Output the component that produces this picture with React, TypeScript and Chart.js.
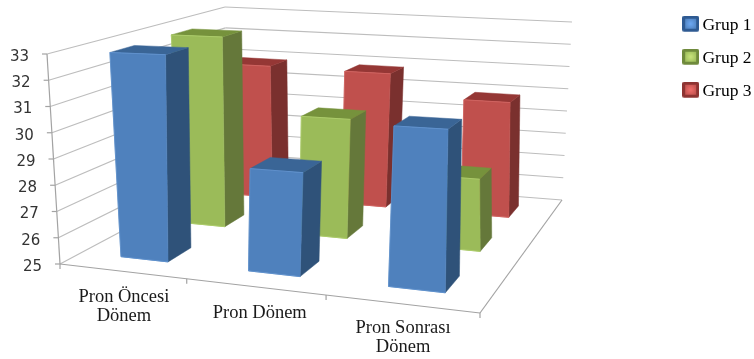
import React, { useEffect, useRef } from "react";
import { Chart, BarController, BarElement, CategoryScale, LinearScale, Legend } from "chart.js";

const periods = [["Pron Öncesi", "Dönem"], ["Pron Dönem"], ["Pron Sonrası", "Dönem"]];
const group1 = [32.9, 28.8, 30.7];
const group2 = [32.9, 29.8, 27.8];
const group3 = [30.9, 30.85, 29.9];
const groupNames = ["Grup 1", "Grup 2", "Grup 3"];
const axisMin = 25;
const axisMax = 33;

const faceColors = [
  { front: "#4F81BD", side: "#2F5279", top: "#3A6596", edge: "#5E90CC", rim: "#2E5A92", glow: "#6BA6F0" },
  { front: "#9BBB59", side: "#65783A", top: "#76923C", edge: "#ABCB69", rim: "#6F8A3C", glow: "#C6E27A" },
  { front: "#C0504D", side: "#7A302E", top: "#953735", edge: "#CF625F", rim: "#8E3432", glow: "#EE6E6A" },
];

type Pt = [number, number];

// Corners of the chart box as seen by the camera: front-left, front-right, back-right, back-left.
const floorQuad: Pt[] = [[60, 264], [480, 313], [562, 200], [229, 174]];
const ceilingQuad: Pt[] = [[47, 54], [489, 71], [572, 22], [225, 7]];

function quadMap(q: Pt[]) {
  const [[x0, y0], [x1, y1], [x2, y2], [x3, y3]] = q;
  const dx1 = x1 - x2, dx2 = x3 - x2, sx = x0 - x1 + x2 - x3;
  const dy1 = y1 - y2, dy2 = y3 - y2, sy = y0 - y1 + y2 - y3;
  const det = dx1 * dy2 - dx2 * dy1;
  const g = (sx * dy2 - dx2 * sy) / det;
  const h = (dx1 * sy - sx * dy1) / det;
  const a = x1 - x0 + g * x1, b = x3 - x0 + h * x3;
  const d = y1 - y0 + g * y1, e = y3 - y0 + h * y3;
  return (u: number, v: number): Pt => {
    const w = g * u + h * v + 1;
    return [(a * u + b * v + x0) / w, (d * u + e * v + y0) / w];
  };
}

const onFloor = quadMap(floorQuad);
const onCeiling = quadMap(ceilingQuad);

function project(u: number, v: number, f: number): Pt {
  const p = onFloor(u, v);
  const q = onCeiling(u, v);
  return [p[0] + (q[0] - p[0]) * f, p[1] + (q[1] - p[1]) * f];
}

// Bars rise a little closer to true vertical than the box walls do.
function projectBar(u: number, v: number, f: number): Pt {
  const p = project(u, v, f);
  return [p[0] - 8 * Math.sqrt(f), p[1]];
}

function polygon(ctx: CanvasRenderingContext2D, pts: Pt[], fill: string, stroke?: string) {
  ctx.beginPath();
  pts.forEach((p, i) => (i ? ctx.lineTo(p[0], p[1]) : ctx.moveTo(p[0], p[1])));
  ctx.closePath();
  ctx.fillStyle = fill;
  ctx.fill();
  ctx.strokeStyle = stroke || fill;
  ctx.lineWidth = stroke ? 1 : 0.5;
  ctx.stroke();
}

function line(ctx: CanvasRenderingContext2D, a: Pt, b: Pt, color: string, width = 1.2) {
  ctx.beginPath();
  ctx.moveTo(a[0], a[1]);
  ctx.lineTo(b[0], b[1]);
  ctx.strokeStyle = color;
  ctx.lineWidth = width;
  ctx.stroke();
}

// Share of a cell taken by a bar, in both directions, and its small sideways offset.
const barShare = 0.38;
const barOffset = 0.005;

class Bar3DController extends BarController {
  static id = "bar3d";
  static defaults = {};
  draw() {
    const chart = this.chart;
    const ctx = chart.ctx;
    const yScale = chart.scales.y;
    const colors = faceColors[this.index];
    const rows = chart.data.datasets.length;
    const cols = chart.data.labels.length;
    this._cachedMeta.data.forEach((el: any, i: number) => {
      const f = (yScale.bottom - el.y) / yScale.height;
      const u0 = (i + (1 - barShare) / 2) / cols + barOffset;
      const u1 = u0 + barShare / cols;
      const v0 = (this.index + (1 - barShare) / 2) / rows;
      const v1 = v0 + barShare / rows;
      const a = projectBar(u0, v0, 0), b = projectBar(u1, v0, 0);
      const c = projectBar(u1, v0, f), d = projectBar(u0, v0, f);
      const e = projectBar(u1, v1, 0), g = projectBar(u1, v1, f), h = projectBar(u0, v1, f);
      ctx.save();
      polygon(ctx, [b, e, g, c], colors.side);
      polygon(ctx, [d, c, g, h], colors.top);
      polygon(ctx, [a, b, c, d], colors.front);
      line(ctx, d, c, colors.edge, 1);
      line(ctx, a, b, colors.edge, 1);
      line(ctx, d, a, colors.edge, 0.8);
      ctx.restore();
    });
  }
}

const gridColor = "#BDBDBD";
const axisColor = "#A3A3A3";

// Box outline, tick marks and axis text, all placed from the chart's own scales.
const boxPlugin = {
  id: "box3d",
  beforeDatasetsDraw(chart: any) {
    const ctx = chart.ctx;
    const yScale = chart.scales.y;
    const xScale = chart.scales.x;
    ctx.save();
    yScale.ticks.forEach((t: any) => {
      const f = (yScale.bottom - yScale.getPixelForValue(t.value)) / yScale.height;
      const front = project(0, 0, f);
      const corner = project(0, 1, f);
      const end = project(1, 1, f);
      line(ctx, front, corner, gridColor);
      line(ctx, corner, end, gridColor);
      line(ctx, [front[0] - 5, front[1]], front, axisColor);
      ctx.font = "15px 'DejaVu Sans'";
      ctx.fillStyle = "#333333";
      ctx.textAlign = "right";
      ctx.textBaseline = "middle";
      ctx.fillText(String(t.value), front[0] - 18, front[1] + 3);
    });
    line(ctx, project(0, 0, 0), project(0, 0, 1), axisColor);
    line(ctx, project(0, 0, 0), project(1, 0, 0), axisColor);
    line(ctx, project(1, 0, 0), project(1, 1, 0), axisColor);

    const labels = xScale.getLabels();
    const cols = labels.length;
    for (let i = 0; i <= cols; i++) {
      const p = project(i / cols, 0, 0);
      line(ctx, p, [p[0], p[1] + 5], axisColor);
    }
    // Drop below the front edge and sideways nudge for each wrapped label.
    const drops = [26, 26, 24];
    const nudges = [2, 5, 2];
    ctx.font = "18.5px 'Liberation Serif'";
    ctx.fillStyle = "#1A1A1A";
    ctx.textAlign = "center";
    ctx.textBaseline = "middle";
    labels.forEach((lines: string[], i: number) => {
      const p = project((i + 0.5) / cols, 0, 0);
      lines.forEach((txt, k) => {
        ctx.fillText(txt, p[0] + nudges[i], p[1] + drops[i] + k * 19);
      });
    });
    ctx.restore();
  },
};

// Legend key: a small bevelled tile, with spare room below it so it sits level with the text.
function legendSwatch(c: (typeof faceColors)[number]) {
  const w = 17, h = 16, inset = 3;
  const cv = document.createElement("canvas");
  cv.width = w;
  cv.height = h + 4;
  const ctx = cv.getContext("2d")!;
  ctx.beginPath();
  ctx.roundRect(0, 0, w, h, 2);
  ctx.fillStyle = c.rim;
  ctx.fill();
  const glow = ctx.createRadialGradient(w / 2, h / 2, 0.5, w / 2, h / 2, 7);
  glow.addColorStop(0, c.glow);
  glow.addColorStop(1, c.front);
  ctx.fillStyle = glow;
  ctx.fillRect(inset, inset, w - 2 * inset, h - 2 * inset);
  return cv;
}

Chart.register(Bar3DController, BarElement, CategoryScale, LinearScale, Legend);

export default function App() {
  const ref = useRef<HTMLCanvasElement>(null);
  useEffect(() => {
    const swatches = faceColors.map(legendSwatch);
    const chart = new Chart(ref.current!, {
      type: "bar3d" as any,
      data: {
        labels: periods as any,
        datasets: [group1, group2, group3].map((data, i) => ({
          label: groupNames[i],
          data,
          backgroundColor: faceColors[i].front,
          clip: false,
        })) as any,
      },
      plugins: [boxPlugin],
      options: {
        responsive: false,
        animation: false,
        events: [],
        layout: { padding: { top: 1.5, right: -7.5 } },
        scales: {
          x: { type: "category", ticks: { display: false }, grid: { display: false }, border: { display: false } },
          y: {
            type: "linear",
            min: axisMin,
            max: axisMax,
            ticks: { display: false, stepSize: 1 },
            grid: { display: false },
            border: { display: false },
          },
        },
        plugins: {
          legend: {
            position: "right",
            align: "start",
            labels: {
              usePointStyle: true,
              boxWidth: 6,
              padding: 15.5,
              color: "#1A1A1A",
              font: { family: "'Liberation Serif'", size: 17.5 },
              generateLabels: (c: any) =>
                c.data.datasets.map((d: any, i: number) => ({
                  text: d.label,
                  datasetIndex: i,
                  pointStyle: swatches[i],
                  fillStyle: faceColors[i].front,
                  strokeStyle: faceColors[i].front,
                  lineWidth: 0,
                  hidden: false,
                })),
            },
          },
        },
      } as any,
    });
    return () => chart.destroy();
  }, []);
  return (
    <div style={{ position: "fixed", left: 0, top: 0, width: 754, height: 359, background: "#fff" }}>
      <canvas ref={ref} width={754} height={359} style={{ display: "block" }} />
    </div>
  );
}
